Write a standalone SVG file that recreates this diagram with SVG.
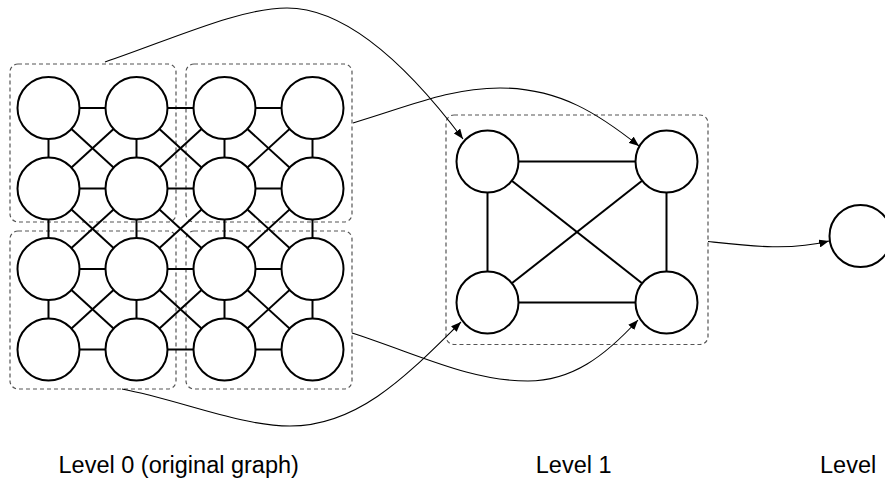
<svg xmlns="http://www.w3.org/2000/svg" width="885" height="481" viewBox="0 0 885 481">
<style>
.n{fill:#fff;stroke:#000;stroke-width:2}
.e{stroke:#000;stroke-width:2;fill:none}
.g{fill:none;stroke:#555;stroke-width:1.2;stroke-dasharray:4 3}
.c{fill:none;stroke:#000;stroke-width:1.1}
.t{font-family:"Liberation Sans",Arial,sans-serif;font-size:23.5px;fill:#000}
</style>
<defs>
<marker id="ah" markerUnits="userSpaceOnUse" markerWidth="10" markerHeight="8" refX="10" refY="4" orient="auto">
<path d="M0,0 L10,4 L0,8 z" fill="#000"/>
</marker>
</defs>
<rect width="885" height="481" fill="#fff"/>
<g id="groups">
<rect class="g" x="10" y="64" width="166" height="158" rx="8"/>
<rect class="g" x="186" y="64" width="166" height="158" rx="8"/>
<rect class="g" x="10" y="231" width="166" height="158" rx="8"/>
<rect class="g" x="186" y="231" width="166" height="158" rx="8"/>
<rect class="g" x="446" y="115" width="262" height="229.5" rx="8"/>
</g>
<g id="connectors">
<g class="e">
<line x1="48.5" y1="108" x2="312.5" y2="108"/>
<line x1="48.5" y1="188.5" x2="312.5" y2="188.5"/>
<line x1="48.5" y1="269" x2="312.5" y2="269"/>
<line x1="48.5" y1="349.5" x2="312.5" y2="349.5"/>
<line x1="48.5" y1="108" x2="48.5" y2="349.5"/>
<line x1="136.5" y1="108" x2="136.5" y2="349.5"/>
<line x1="224.5" y1="108" x2="224.5" y2="349.5"/>
<line x1="312.5" y1="108" x2="312.5" y2="349.5"/>
<line x1="48.5" y1="108" x2="136.5" y2="188.5"/><line x1="136.5" y1="108" x2="48.5" y2="188.5"/>
<line x1="136.5" y1="108" x2="224.5" y2="188.5"/><line x1="224.5" y1="108" x2="136.5" y2="188.5"/>
<line x1="224.5" y1="108" x2="312.5" y2="188.5"/><line x1="312.5" y1="108" x2="224.5" y2="188.5"/>
<line x1="48.5" y1="188.5" x2="136.5" y2="269"/><line x1="136.5" y1="188.5" x2="48.5" y2="269"/>
<line x1="136.5" y1="188.5" x2="224.5" y2="269"/><line x1="224.5" y1="188.5" x2="136.5" y2="269"/>
<line x1="224.5" y1="188.5" x2="312.5" y2="269"/><line x1="312.5" y1="188.5" x2="224.5" y2="269"/>
<line x1="48.5" y1="269" x2="136.5" y2="349.5"/><line x1="136.5" y1="269" x2="48.5" y2="349.5"/>
<line x1="136.5" y1="269" x2="224.5" y2="349.5"/><line x1="224.5" y1="269" x2="136.5" y2="349.5"/>
<line x1="224.5" y1="269" x2="312.5" y2="349.5"/><line x1="312.5" y1="269" x2="224.5" y2="349.5"/>
<line x1="487.5" y1="161.5" x2="666.5" y2="161.5"/>
<line x1="487.5" y1="302.5" x2="666.5" y2="302.5"/>
<line x1="487.5" y1="161.5" x2="487.5" y2="302.5"/>
<line x1="666.5" y1="161.5" x2="666.5" y2="302.5"/>
<line x1="487.5" y1="161.5" x2="666.5" y2="302.5"/>
<line x1="666.5" y1="161.5" x2="487.5" y2="302.5"/>
</g>
<g class="c" marker-end="url(#ah)">
<path d="M105,62 C175,38 240,8 287,8 C345,8 405,62 463,139"/>
<path d="M353,123 C410,106 450,88 500,88 C560,88 600,115 639,146"/>
<path d="M122,389 C180,400 240,426 290,426 C360,426 410,372 461,322"/>
<path d="M352,333 C420,355 470,381 528,381 C572,381 605,356 638,320"/>
<path d="M708,241.5 C750,246 790,251 829,241"/>
</g>
</g>
<g id="level0">
<circle id="n00" class="n" cx="48.5" cy="108" r="31"/>
<circle id="n01" class="n" cx="136.5" cy="108" r="31"/>
<circle id="n02" class="n" cx="224.5" cy="108" r="31"/>
<circle id="n03" class="n" cx="312.5" cy="108" r="31"/>
<circle id="n10" class="n" cx="48.5" cy="188.5" r="31"/>
<circle id="n11" class="n" cx="136.5" cy="188.5" r="31"/>
<circle id="n12" class="n" cx="224.5" cy="188.5" r="31"/>
<circle id="n13" class="n" cx="312.5" cy="188.5" r="31"/>
<circle id="n20" class="n" cx="48.5" cy="269" r="31"/>
<circle id="n21" class="n" cx="136.5" cy="269" r="31"/>
<circle id="n22" class="n" cx="224.5" cy="269" r="31"/>
<circle id="n23" class="n" cx="312.5" cy="269" r="31"/>
<circle id="n30" class="n" cx="48.5" cy="349.5" r="31"/>
<circle id="n31" class="n" cx="136.5" cy="349.5" r="31"/>
<circle id="n32" class="n" cx="224.5" cy="349.5" r="31"/>
<circle id="n33" class="n" cx="312.5" cy="349.5" r="31"/>
</g>
<g id="level1">
<circle id="m00" class="n" cx="487.5" cy="161.5" r="31"/>
<circle id="m01" class="n" cx="666.5" cy="161.5" r="31"/>
<circle id="m10" class="n" cx="487.5" cy="302.5" r="31"/>
<circle id="m11" class="n" cx="666.5" cy="302.5" r="31"/>
</g>
<g id="level2">
<circle id="k0" class="n" cx="860.5" cy="236" r="31"/>
</g>
<g id="labels">
<text class="t" x="178.7" y="473" text-anchor="middle">Level 0 (original graph)</text>
<text class="t" x="573.7" y="473" text-anchor="middle">Level 1</text>
<text class="t" x="820" y="473">Level</text>
</g>
</svg>
